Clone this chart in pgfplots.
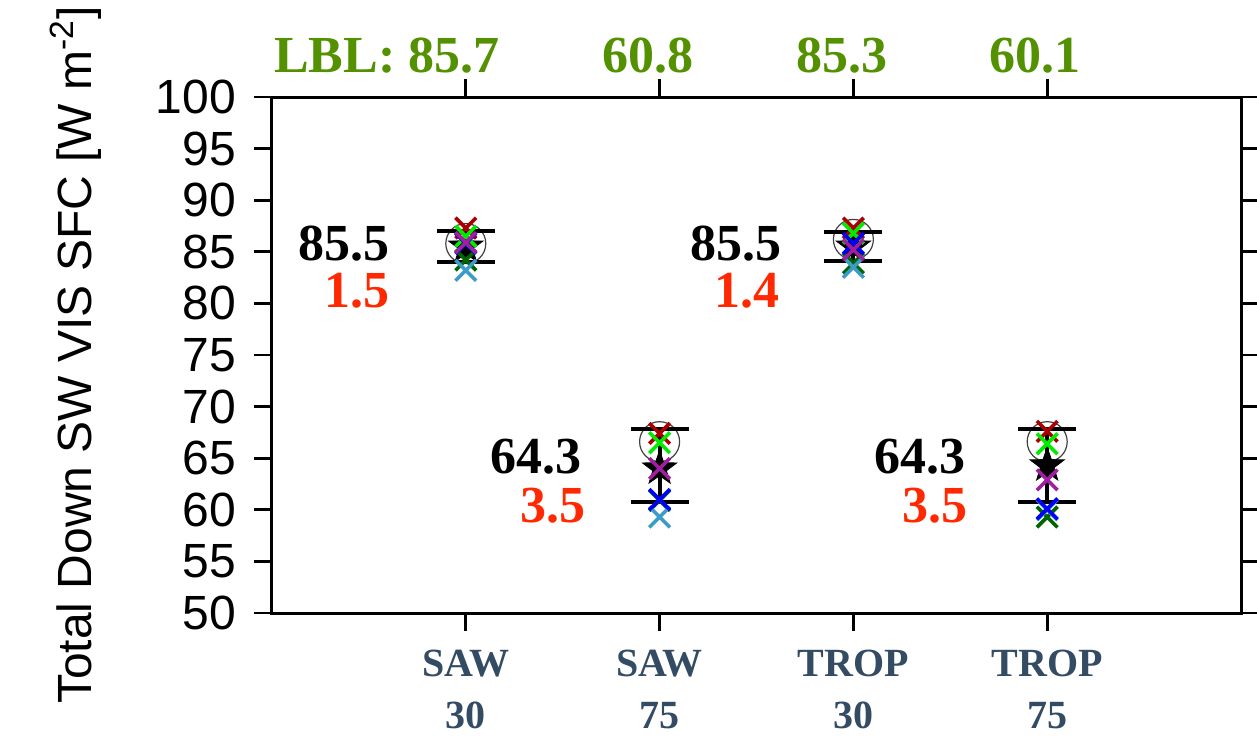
\documentclass[border=0pt]{standalone}
\usepackage{fontspec}
\setmainfont{Liberation Serif}
\newfontfamily\helv{Liberation Sans}
\usepackage{pgfplots}
\pgfplotsset{compat=1.18}
\definecolor{lblgreen}{RGB}{83,145,0}
\definecolor{annred}{RGB}{255,40,0}
\definecolor{tickblue}{RGB}{52,75,100}
\definecolor{cred}{RGB}{170,0,0}
\definecolor{cgreen}{RGB}{0,235,0}
\definecolor{cpurple}{RGB}{160,30,160}
\definecolor{cdgreen}{RGB}{0,100,0}
\definecolor{clblue}{RGB}{60,155,200}
\definecolor{cblue}{RGB}{0,0,255}
\pgfdeclareplotmark{fstar}{%
  \pgfpathmoveto{\pgfpointpolar{90}{\pgfplotmarksize}}%
  \pgfpathlineto{\pgfpointpolar{126}{0.4\pgfplotmarksize}}%
  \pgfpathlineto{\pgfpointpolar{162}{\pgfplotmarksize}}%
  \pgfpathlineto{\pgfpointpolar{198}{0.4\pgfplotmarksize}}%
  \pgfpathlineto{\pgfpointpolar{234}{\pgfplotmarksize}}%
  \pgfpathlineto{\pgfpointpolar{270}{0.4\pgfplotmarksize}}%
  \pgfpathlineto{\pgfpointpolar{306}{\pgfplotmarksize}}%
  \pgfpathlineto{\pgfpointpolar{342}{0.4\pgfplotmarksize}}%
  \pgfpathlineto{\pgfpointpolar{18}{\pgfplotmarksize}}%
  \pgfpathlineto{\pgfpointpolar{54}{0.4\pgfplotmarksize}}%
  \pgfpathclose\pgfusepathqfillstroke}
\begin{document}
\begin{tikzpicture}[x=1bp,y=1bp]
\begin{axis}[
  at={(0,0)}, anchor=south west, scale only axis,
  width=484.5bp, height=258bp,
  xmin=0, xmax=5, ymin=50, ymax=100,
  xtick={1,2,3,4},
  xticklabels={{SAW\\30},{SAW\\75},{TROP\\30},{TROP\\75}},
  ytick={50,55,...,100},
  tick align=outside, major tick length=9bp,
  xtick pos=both, ytick pos=both, xticklabel pos=lower, yticklabel pos=left,
  axis line style={line width=1.5bp},
  major tick style={black, line width=1.4bp},
  xticklabel style={font=\fontsize{20bp}{26bp}\selectfont\bfseries, text=tickblue, align=center, yshift=-6bp},
  yticklabel style={font=\helv\fontsize{24bp}{24bp}\selectfont, xshift=-5.5bp},
  /pgf/number format/assume math mode=true,
  ylabel={Total Down SW VIS SFC [W m\textsuperscript{-2}]},
  ylabel style={font=\helv\fontsize{24bp}{24bp}\selectfont, at={(axis description cs:-0.203,0.5)}, anchor=center},
  clip=false,
]
% reference circles
\addplot[only marks, mark=o, mark size=10bp, mark options={line width=0.6bp, draw=black!75}]
  coordinates {(1,85.8) (2,66.6) (3,86.2) (4,66.6)};
% error bars (mean +- spread)
\addplot[black, line width=2bp, mark=-, mark size=14.5bp, mark options={line width=2bp}] coordinates {(1,84.0) (1,87.0)};
\addplot[black, line width=2bp, mark=-, mark size=14.5bp, mark options={line width=2bp}] coordinates {(2,60.8) (2,67.8)};
\addplot[black, line width=2bp, mark=-, mark size=14.5bp, mark options={line width=2bp}] coordinates {(3,84.1) (3,86.9)};
\addplot[black, line width=2bp, mark=-, mark size=14.5bp, mark options={line width=2bp}] coordinates {(4,60.8) (4,67.8)};
% mean star
\addplot[only marks, mark=fstar, mark size=9bp, black, mark options={line width=0.4bp}]
  coordinates {(1,85.5) (2,64.0) (3,85.5) (4,64.3)};
% model crosses
\addplot[only marks, mark=x, mark size=7.3bp, cred, mark options={line width=1.8bp}]
  coordinates {(1,87.3) (2,67.4) (3,87.3) (4,67.6)};
\addplot[only marks, mark=x, mark size=7.3bp, cgreen, mark options={line width=1.8bp}]
  coordinates {(1,86.5) (2,66.5) (3,86.8) (4,66.4)};
\addplot[only marks, mark=x, mark size=7.3bp, cdgreen, mark options={line width=1.8bp}]
  coordinates {(1,84.2) (2,60.9) (3,83.9) (4,59.3)};
\addplot[only marks, mark=x, mark size=7.3bp, clblue, mark options={line width=1.8bp}]
  coordinates {(1,83.2) (2,59.3) (3,83.5) (4,60.0)};
\addplot[only marks, mark=x, mark size=7.3bp, cblue, mark options={line width=1.8bp}]
  coordinates {(1,85.8) (2,61.0) (3,85.8) (4,60.1)};
\addplot[only marks, mark=x, mark size=7.3bp, cpurple, mark options={line width=1.8bp}]
  coordinates {(1,85.9) (2,64.0) (3,85.2) (4,62.9)};
% annotations
\begin{scope}[every node/.style={font=\fontsize{26bp}{26bp}\selectfont\bfseries, inner sep=0pt}]
\node[anchor=base east] at (axis cs:0.61,84.2) {85.5};
\node[anchor=base east, text=annred] at (axis cs:0.61,79.6) {1.5};
\node[anchor=base east] at (axis cs:1.60,63.5) {64.3};
\node[anchor=base east, text=annred] at (axis cs:1.62,58.8) {3.5};
\node[anchor=base east] at (axis cs:2.63,84.2) {85.5};
\node[anchor=base east, text=annred] at (axis cs:2.62,79.6) {1.4};
\node[anchor=base east] at (axis cs:3.58,63.5) {64.3};
\node[anchor=base east, text=annred] at (axis cs:3.59,58.8) {3.5};
\node[anchor=base east, text=lblgreen, yshift=12.5bp] at (axis cs:1.176,100) {LBL: 85.7};
\node[anchor=base east, text=lblgreen, yshift=12.5bp] at (axis cs:2.176,100) {60.8};
\node[anchor=base east, text=lblgreen, yshift=12.5bp] at (axis cs:3.176,100) {85.3};
\node[anchor=base east, text=lblgreen, yshift=12.5bp] at (axis cs:4.176,100) {60.1};
\end{scope}
\end{axis}
\pgfresetboundingbox
\path (-136bp,-62.5bp) rectangle (492.5bp,306.5bp);
\end{tikzpicture}
\end{document}
